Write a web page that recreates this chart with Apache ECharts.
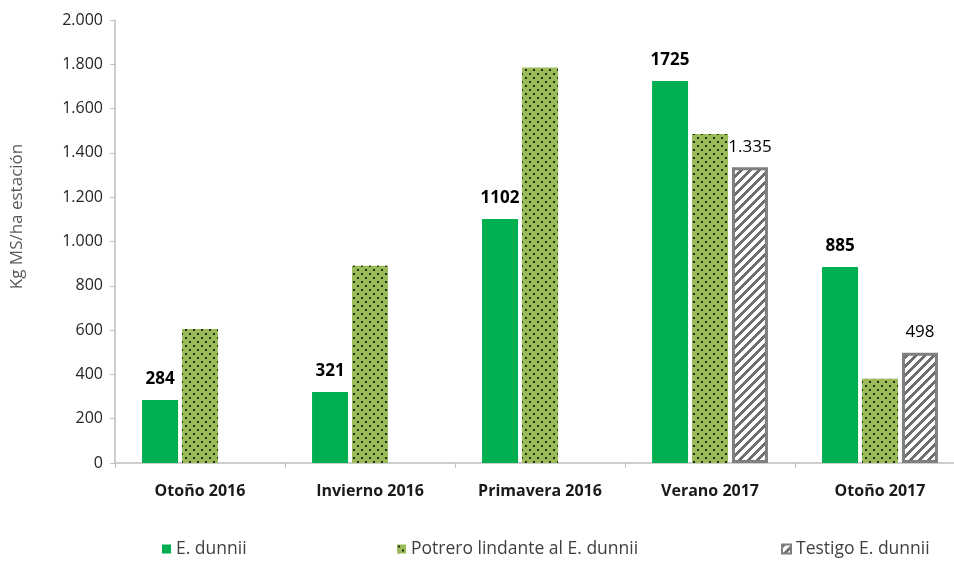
<!DOCTYPE html>
<html>
<head>
<meta charset="utf-8">
<script src="https://cdn.jsdelivr.net/npm/echarts@6/dist/echarts.min.js"></script>
<style>
  html, body { margin: 0; padding: 0; background: #fff; }
  #chart { width: 954px; height: 562px; }
</style>
</head>
<body>
<div id="chart"></div>
<script>
// Forage production per season (kg DM / ha)
const seasons = ['Otoño 2016', 'Invierno 2016', 'Primavera 2016', 'Verano 2017', 'Otoño 2017'];
const dunnii = [284, 321, 1102, 1725, 885];
const potrero = [605, 890, 1785, 1485, 380];
const testigo = [null, null, null, 1335, 498];
const yTicks = { min: 0, max: 2000, interval: 200 };

const FONT = "'Open Sans', sans-serif";

// 8x8 dotted fill (green background with small dark dots)
function dotPattern() {
  const c = document.createElement('canvas');
  c.width = 8; c.height = 8;
  const ctx = c.getContext('2d');
  ctx.fillStyle = '#9bbb59';
  ctx.fillRect(0, 0, 8, 8);
  ctx.fillStyle = '#1e2a12';
  ctx.fillRect(1, 1, 2, 2);
  ctx.fillRect(5, 5, 2, 2);
  return c;
}

// 9x9 wide upward diagonal hatch (grey on white)
function hatchPattern() {
  const n = 9;
  const c = document.createElement('canvas');
  c.width = n; c.height = n;
  const ctx = c.getContext('2d');
  const img = ctx.createImageData(n, n);
  for (let y = 0; y < n; y++) {
    for (let x = 0; x < n; x++) {
      const dark = ((x + y) % n) < 4;
      const v = dark ? 110 : 255;
      const i = (y * n + x) * 4;
      img.data[i] = v; img.data[i + 1] = v; img.data[i + 2] = v; img.data[i + 3] = 255;
    }
  }
  ctx.putImageData(img, 0, 0);
  return c;
}

const fmtThousands = v => String(v).replace(/\B(?=(\d{3})+(?!\d))/g, '.');

const chart = echarts.init(document.getElementById('chart'), null, { renderer: 'canvas' });

const legendText = { fontFamily: FONT, fontSize: 17.5, color: '#404040' };
const legendBase = { bottom: 4, padding: 0, itemWidth: 9, itemHeight: 9, itemGap: 0, textStyle: legendText, icon: 'rect' };

chart.setOption({
  animation: false,
  backgroundColor: '#ffffff',
  grid: { left: 115, top: 20, width: 850, height: 443, outerBoundsMode: 'none' },
  legend: [
    Object.assign({}, legendBase, { left: 162, data: ['E. dunnii'] }),
    Object.assign({}, legendBase, { left: 397, data: ['Potrero lindante al E. dunnii'] }),
    Object.assign({}, legendBase, { left: 781, data: ['Testigo E. dunnii'] })
  ],
  xAxis: {
    type: 'category',
    data: seasons,
    axisLine: { lineStyle: { color: '#bfbfbf', width: 1.5 } },
    axisTick: { show: true, length: 5, lineStyle: { color: '#bfbfbf' } },
    axisLabel: { fontFamily: FONT, fontSize: 16, fontWeight: 'bold', color: '#1a1a1a', margin: 20 }
  },
  yAxis: {
    type: 'value',
    min: yTicks.min, max: yTicks.max, interval: yTicks.interval,
    name: 'Kg MS/ha estación',
    nameLocation: 'middle',
    nameGap: 89,
    nameTextStyle: { fontFamily: FONT, fontSize: 17, color: '#595959', padding: [0, 0, 0, 50] },
    axisLine: { show: true, lineStyle: { color: '#bfbfbf', width: 1.5 } },
    axisTick: { show: true, length: 5, lineStyle: { color: '#bfbfbf' } },
    splitLine: { show: false },
    axisLabel: { fontFamily: FONT, fontSize: 16, color: '#262626', margin: 12, formatter: fmtThousands }
  },
  series: [
    {
      name: 'E. dunnii',
      type: 'bar',
      data: dunnii,
      barWidth: 36,
      barGap: '11%',
      itemStyle: { color: '#00b050' },
      label: { show: true, position: 'top', distance: 12, fontFamily: FONT, fontSize: 17, fontWeight: 'bold', color: '#000' }
    },
    {
      name: 'Potrero lindante al E. dunnii',
      type: 'bar',
      data: potrero,
      barWidth: 36,
      barGap: '11%',
      itemStyle: { color: { image: dotPattern(), repeat: 'repeat' } }
    },
    {
      name: 'Testigo E. dunnii',
      type: 'bar',
      data: testigo,
      barWidth: 36,
      barGap: '11%',
      itemStyle: { color: { image: hatchPattern(), repeat: 'repeat' }, borderColor: '#7f7f7f', borderWidth: 3 },
      label: { show: true, position: 'top', distance: 12, fontFamily: FONT, fontSize: 17, color: '#000', formatter: p => fmtThousands(p.value) }
    }
  ]
});
</script>
</body>
</html>
